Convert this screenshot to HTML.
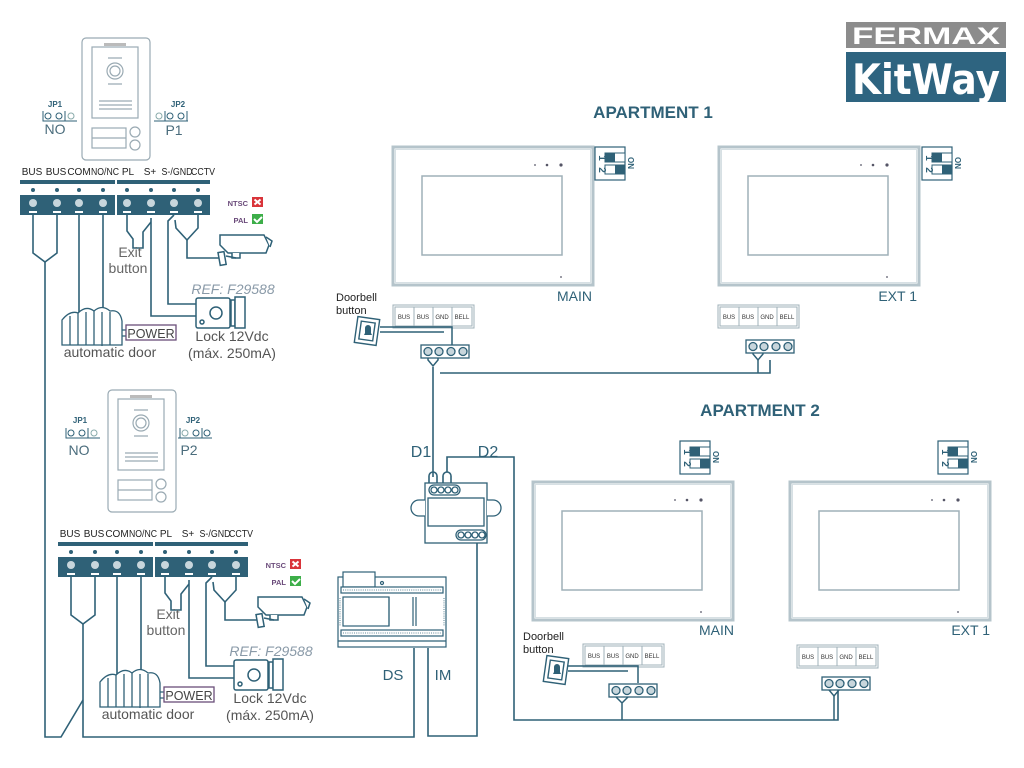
<!DOCTYPE html>
<html><head><meta charset="utf-8"><style>
html,body{margin:0;padding:0;background:#fff;}
svg{display:block;font-family:"Liberation Sans",sans-serif;}
</style></head><body>
<svg width="1024" height="768" viewBox="0 0 1024 768" xmlns="http://www.w3.org/2000/svg">
<defs>
<g id="blk">
 <rect x="0" y="0" width="190" height="35" fill="#2f6177"/>
 <rect x="0" y="4" width="190" height="11" fill="#fff"/>
 <rect x="95" y="0" width="2" height="35" fill="#fff"/>
 <g fill="#2f6177">
  <circle cx="13" cy="10" r="2"/><circle cx="37" cy="10" r="2"/><circle cx="59" cy="10" r="2"/><circle cx="83" cy="10" r="2"/>
  <circle cx="107" cy="10" r="2"/><circle cx="131" cy="10" r="2"/><circle cx="154" cy="10" r="2"/><circle cx="178" cy="10" r="2"/>
 </g>
 <g fill="#c8d6dc">
  <circle cx="13" cy="23" r="4"/><circle cx="37" cy="23" r="4"/><circle cx="59" cy="23" r="4"/><circle cx="83" cy="23" r="4"/>
  <circle cx="107" cy="23" r="4"/><circle cx="131" cy="23" r="4"/><circle cx="154" cy="23" r="4"/><circle cx="178" cy="23" r="4"/>
 </g>
 <g fill="#fff">
  <rect x="9" y="31" width="8" height="2"/><rect x="33" y="31" width="8" height="2"/><rect x="55" y="31" width="8" height="2"/><rect x="79" y="31" width="8" height="2"/>
  <rect x="103" y="31" width="8" height="2"/><rect x="127" y="31" width="8" height="2"/><rect x="150" y="31" width="8" height="2"/><rect x="174" y="31" width="8" height="2"/>
 </g>
</g>
<g id="panel" fill="none" stroke="#9aaab3" stroke-width="1.2">
 <rect x="82" y="38" width="68" height="122" rx="4"/>
 <rect x="92" y="47" width="46" height="71"/>
 <rect x="104" y="43" width="22" height="3" fill="#bbb" stroke="none"/>
 <circle cx="115" cy="71" r="8"/><circle cx="115" cy="71" r="5"/>
 <path d="M108 58h14M108 84h14"/>
 <path d="M99 101h33M99 105h33M99 109h33"/>
 <rect x="92" y="128" width="34" height="20"/><path d="M92 138h34"/>
 <circle cx="135" cy="132" r="5"/><circle cx="135" cy="145" r="5"/>
</g>
<g id="mon">
 <rect x="0" y="0" width="200" height="138" fill="#fff" stroke="#b5c4cb" stroke-width="3"/>
 <rect x="2.5" y="2.5" width="195" height="133" fill="none" stroke="#d7e0e4" stroke-width="1"/>
 <rect x="29" y="29" width="140" height="79" fill="#fff" stroke="#9fb0b8" stroke-width="1.5"/>
 <circle cx="142" cy="18" r="0.9" fill="#556"/><circle cx="154" cy="18" r="1.3" fill="#556"/><circle cx="168" cy="18" r="1.6" fill="#556"/>
 <circle cx="168" cy="130" r="0.9" fill="#556"/>
</g>
<g id="dip">
 <rect x="0" y="0" width="30" height="33" fill="#fff" stroke="#2f6177" stroke-width="1.2"/>
 <rect x="10" y="6" width="20" height="9" fill="#fff" stroke="#2f6177"/><rect x="10" y="6" width="10" height="9" fill="#2f6177"/>
 <rect x="10" y="18" width="20" height="9" fill="#fff" stroke="#2f6177"/><rect x="20" y="18" width="10" height="9" fill="#2f6177"/>
</g>
<g id="strip" fill="none" stroke="#9fb0b8">
 <rect x="0" y="0" width="81" height="23"/>
 <rect x="2" y="2" width="77" height="19"/>
 <path d="M21 2v19M40 2v19M59 2v19"/>
</g>
<g id="con" stroke="#2f6177" stroke-width="1.3">
 <rect x="0" y="0" width="48" height="13" fill="#fff"/>
 <circle cx="7" cy="6.5" r="4" fill="#c8d6dc"/><circle cx="18" cy="6.5" r="4" fill="#c8d6dc"/>
 <circle cx="30" cy="6.5" r="4" fill="#c8d6dc"/><circle cx="42" cy="6.5" r="4" fill="#c8d6dc"/>
</g>
<g id="bell" stroke="#2f6177" stroke-width="1.4" fill="#fff">
 <rect x="0" y="0" width="22" height="26" transform="rotate(8 11 13)"/>
 <rect x="4" y="4" width="14" height="18" transform="rotate(8 11 13)"/>
 <path d="M8 17h8l-1-2v-5a3 3 0 0 0-6 0v5z" fill="#2f6177" stroke="none"/>
</g>
<g id="wire">
 <g transform="translate(20,180)"><use href="#blk"/></g>
 <g fill="none" stroke="#2f6177" stroke-width="1.6">
  <path d="M33 215v38l12 9l12 -9v-38"/>
  <path d="M79 215v104M103 215v104"/>
  <path d="M127 215v16l6 8v9h10v-16l8 -10"/>
  <path d="M151 218v98h45"/>
  <path d="M174 215l-6 6v83h28"/>
  <path d="M175 220l1 8l11 12l11 -12v-13"/>
  <path d="M187 240v18h36"/>
 </g>
 <g fill="#fff" stroke="#2f6177" stroke-width="1.3">
  <path d="M62 345v-25q8-10 16-7q8-8 16-2q8-7 16 0q10 -2 12 10v24z"/>
  <path d="M70 316v29M78 313v32M86 312v33M94 311v34M102 312v34M110 312v33" fill="none"/>
  <path d="M122 330h4M122 336h4" fill="none"/>
  <rect x="126" y="325" width="50" height="15" stroke="#6a4f7a"/>
 </g>
 <rect x="252" y="197" width="11" height="10" fill="#d9343a"/>
 <path d="M254.5 199.5l6 5M260.5 199.5l-6 5" stroke="#fff" stroke-width="2"/>
 <rect x="252" y="214" width="11" height="10" fill="#3dae49"/>
 <path d="M254 219l3 3l5 -5" stroke="#fff" stroke-width="2" fill="none"/>
 <g fill="#fff" stroke="#2f6177" stroke-width="1.5">
  <path d="M220 235h44l5 10l-3 8h-38l-8 -8z"/>
  <path d="M266 237l6 4l-2 6"/>
  <path d="M232 253v5h8v-5"/>
  <path d="M226 256l10 2" />
  <rect x="219" y="252" width="6" height="13" transform="rotate(-10 222 258)"/>
 </g>
 <g fill="#fff" stroke="#2f6177" stroke-width="1.5">
  <rect x="196" y="298" width="34" height="30" rx="2"/>
  <circle cx="216" cy="313" r="6"/><circle cx="202" cy="322" r="2"/>
  <rect x="231" y="300" width="4" height="26"/>
  <rect x="235" y="297" width="10" height="31"/>
 </g>
</g>
</defs>

<!-- Logo -->
<rect x="846" y="22" width="160" height="26" fill="#8c8c8c"/>
<text x="926" y="44" fill="#fff" font-size="24" font-weight="bold" text-anchor="middle" textLength="148" lengthAdjust="spacingAndGlyphs">FERMAX</text>
<rect x="846" y="52" width="160" height="50" fill="#2e6480"/>
<text x="926" y="94" fill="#fff" font-size="42" font-weight="bold" text-anchor="middle" font-family="DejaVu Sans, sans-serif" textLength="148" lengthAdjust="spacingAndGlyphs">KitWay</text>

<!-- Entry panel 1 -->
<use href="#panel"/>
<text x="55" y="107" font-size="8" font-weight="bold" fill="#2f6177" text-anchor="middle">JP1</text>
<g fill="none" stroke="#2f6177" stroke-width="1"><path d="M43 111v10h22v-10"/><circle cx="48" cy="116" r="3"/><circle cx="59" cy="116" r="3"/><circle cx="71" cy="116" r="3" stroke="#8aa"/><path d="M43 121h34"/></g>
<text x="55" y="134" font-size="14" fill="#4a6c7c" text-anchor="middle">NO</text>
<text x="178" y="107" font-size="8" font-weight="bold" fill="#2f6177" text-anchor="middle">JP2</text>
<g fill="none" stroke="#2f6177" stroke-width="1"><path d="M165 111v10h22v-10"/><circle cx="159" cy="116" r="3" stroke="#8aa"/><circle cx="170" cy="116" r="3"/><circle cx="181" cy="116" r="3"/><path d="M154 121h34"/></g>
<text x="174" y="135" font-size="14" fill="#4a6c7c" text-anchor="middle">P1</text>

<!-- Entry panel 2 -->
<g transform="translate(26,352)"><use href="#panel"/></g>
<text x="80" y="423" font-size="8" font-weight="bold" fill="#2f6177" text-anchor="middle">JP1</text>
<g fill="none" stroke="#2f6177" stroke-width="1"><path d="M66 428v10h22v-10"/><circle cx="71" cy="433" r="3"/><circle cx="82" cy="433" r="3"/><circle cx="94" cy="433" r="3" stroke="#8aa"/><path d="M66 438h34"/></g>
<text x="79" y="455" font-size="14" fill="#4a6c7c" text-anchor="middle">NO</text>
<text x="193" y="423" font-size="8" font-weight="bold" fill="#2f6177" text-anchor="middle">JP2</text>
<g fill="none" stroke="#2f6177" stroke-width="1"><path d="M180 428v10h22v-10"/><circle cx="185" cy="433" r="3" stroke="#8aa"/><circle cx="196" cy="433" r="3"/><circle cx="207" cy="433" r="3"/><path d="M178 438h34"/></g>
<text x="189" y="455" font-size="14" fill="#4a6c7c" text-anchor="middle">P2</text>

<!-- wiring 1 -->
<use href="#wire"/>
<g font-size="10" fill="#222" text-anchor="middle">
 <text x="32" y="175">BUS</text><text x="56" y="175">BUS</text><text x="79" y="175">COM</text><text x="105" y="175" textLength="28" lengthAdjust="spacingAndGlyphs">NO/NC</text>
 <text x="128" y="175">PL</text><text x="150" y="175">S+</text><text x="177" y="175" textLength="31" lengthAdjust="spacingAndGlyphs">S-/GND</text><text x="203" y="175" textLength="24" lengthAdjust="spacingAndGlyphs">CCTV</text>
</g>
<text x="151" y="338" font-size="12.5" fill="#444" text-anchor="middle">POWER</text>
<text x="110" y="357" font-size="14" fill="#555" text-anchor="middle">automatic door</text>
<text x="130" y="257" font-size="14" fill="#666" text-anchor="middle">Exit</text>
<text x="128" y="273" font-size="14" fill="#666" text-anchor="middle">button</text>
<text x="248" y="206" font-size="7.5" font-weight="bold" fill="#6a4a7a" text-anchor="end">NTSC</text>
<text x="248" y="223" font-size="7.5" font-weight="bold" fill="#6a4a7a" text-anchor="end">PAL</text>
<text x="233" y="294" font-size="14" font-style="italic" fill="#8a9aa8" text-anchor="middle">REF: F29588</text>
<text x="232" y="341" font-size="14" fill="#555" text-anchor="middle">Lock 12Vdc</text>
<text x="232" y="358" font-size="14" fill="#555" text-anchor="middle">(máx. 250mA)</text>

<!-- wiring 2 -->
<g transform="translate(38,362)">
 <use href="#wire"/>
 <g font-size="10" fill="#222" text-anchor="middle">
  <text x="32" y="175">BUS</text><text x="56" y="175">BUS</text><text x="79" y="175">COM</text><text x="105" y="175" textLength="28" lengthAdjust="spacingAndGlyphs">NO/NC</text>
  <text x="128" y="175">PL</text><text x="150" y="175">S+</text><text x="177" y="175" textLength="31" lengthAdjust="spacingAndGlyphs">S-/GND</text><text x="203" y="175" textLength="24" lengthAdjust="spacingAndGlyphs">CCTV</text>
 </g>
 <text x="151" y="338" font-size="12.5" fill="#444" text-anchor="middle">POWER</text>
 <text x="110" y="357" font-size="14" fill="#555" text-anchor="middle">automatic door</text>
 <text x="130" y="257" font-size="14" fill="#666" text-anchor="middle">Exit</text>
 <text x="128" y="273" font-size="14" fill="#666" text-anchor="middle">button</text>
 <text x="248" y="206" font-size="7.5" font-weight="bold" fill="#6a4a7a" text-anchor="end">NTSC</text>
 <text x="248" y="223" font-size="7.5" font-weight="bold" fill="#6a4a7a" text-anchor="end">PAL</text>
 <text x="233" y="294" font-size="14" font-style="italic" fill="#8a9aa8" text-anchor="middle">REF: F29588</text>
 <text x="232" y="341" font-size="14" fill="#555" text-anchor="middle">Lock 12Vdc</text>
 <text x="232" y="358" font-size="14" fill="#555" text-anchor="middle">(máx. 250mA)</text>
</g>

<!-- main bus wiring -->
<g fill="none" stroke="#2f6177" stroke-width="1.6">
 <path d="M45 262v475h16l22 -37"/>
 <path d="M83 624v113h331v-89"/>
 <path d="M428 648v88h49v-196"/>
 <path d="M433 367v110"/>
 <path d="M429 486v-10a4 4 0 0 1 8 0v10"/>
 <path d="M443 486v-10a4 4 0 0 1 8 0v10"/>
 <path d="M447 472v-15h67v263h324v-30"/>
 <path d="M440 373h330v-13"/>
</g>

<!-- Power supply -->
<g fill="#fff" stroke="#2f6177" stroke-width="1.2">
 <rect x="338" y="577" width="108" height="70"/>
 <rect x="343" y="572" width="32" height="15"/>
 <circle cx="382" cy="583" r="1.5"/>
 <rect x="341" y="587" width="102" height="6"/>
 <rect x="341" y="630" width="102" height="6"/>
 <rect x="343" y="597" width="46" height="29"/>
 <path d="M389 597v29M413 597v29M416 597v29"/>
 <path d="M338 641h108"/>
</g>
<g stroke="#2f6177" stroke-width="0.8" stroke-dasharray="1 1.2"><path d="M343 590h98M343 633h98M340 598v28M444 598v28"/></g>
<text x="393" y="680" font-size="15" fill="#2f6177" text-anchor="middle">DS</text>
<text x="443" y="680" font-size="15" fill="#2f6177" text-anchor="middle">IM</text>

<!-- Distributor -->
<g fill="#fff" stroke="#2f6177" stroke-width="1.3">
 <rect x="425" y="483" width="62" height="60"/>
 <rect x="428" y="498" width="56" height="28"/>
 <path d="M425 500h-6a8 8 0 0 0 0 16h6M487 500h6a8 8 0 0 1 0 16h-6"/>
 <rect x="429" y="485" width="31" height="10" rx="5"/>
 <circle cx="434" cy="490" r="3"/><circle cx="441" cy="490" r="3"/><circle cx="448" cy="490" r="3"/><circle cx="455" cy="490" r="3"/>
 <rect x="456" y="530" width="30" height="10" rx="5"/>
 <circle cx="461" cy="535" r="3"/><circle cx="468" cy="535" r="3"/><circle cx="475" cy="535" r="3"/><circle cx="482" cy="535" r="3"/>
</g>
<text x="421" y="457" font-size="16" fill="#2f6177" text-anchor="middle">D1</text>
<text x="488" y="457" font-size="16" fill="#2f6177" text-anchor="middle">D2</text>

<!-- Apartment 1 -->
<text x="653" y="118" font-size="17" font-weight="bold" fill="#2f6177" text-anchor="middle">APARTMENT 1</text>
<g transform="translate(393,147)"><use href="#mon"/></g>
<g transform="translate(719,147)"><use href="#mon"/></g>
<text x="592" y="301" font-size="14" fill="#2f6177" text-anchor="end">MAIN</text>
<text x="917" y="301" font-size="14" fill="#2f6177" text-anchor="end">EXT 1</text>
<g transform="translate(595,147)"><use href="#dip"/></g>
<g transform="translate(922,147)"><use href="#dip"/></g>
<g transform="translate(680,441)"><use href="#dip"/></g>
<g transform="translate(938,441)"><use href="#dip"/></g>
<g font-size="10" fill="#2f6177" font-weight="bold">
 <text transform="translate(599,158) rotate(90)" text-anchor="middle">1</text>
 <text transform="translate(599,170) rotate(90)" text-anchor="middle">2</text>
 <text transform="translate(628,163) rotate(90)" font-size="8" text-anchor="middle">ON</text>
 <text transform="translate(926,158) rotate(90)" text-anchor="middle">1</text>
 <text transform="translate(926,170) rotate(90)" text-anchor="middle">2</text>
 <text transform="translate(955,163) rotate(90)" font-size="8" text-anchor="middle">ON</text>
 <text transform="translate(684,452) rotate(90)" text-anchor="middle">1</text>
 <text transform="translate(684,464) rotate(90)" text-anchor="middle">2</text>
 <text transform="translate(713,457) rotate(90)" font-size="8" text-anchor="middle">ON</text>
 <text transform="translate(942,452) rotate(90)" text-anchor="middle">1</text>
 <text transform="translate(942,464) rotate(90)" text-anchor="middle">2</text>
 <text transform="translate(971,457) rotate(90)" font-size="8" text-anchor="middle">ON</text>
</g>

<!-- strips -->
<g transform="translate(393,305)"><use href="#strip"/></g>
<g transform="translate(718,305)"><use href="#strip"/></g>
<g transform="translate(583,644)"><use href="#strip"/></g>
<g transform="translate(797,645)"><use href="#strip"/></g>
<g font-size="6" fill="#333" text-anchor="middle">
 <text x="404" y="319">BUS</text><text x="423" y="319">BUS</text><text x="442" y="319">GND</text><text x="462" y="319">BELL</text>
 <text x="729" y="319">BUS</text><text x="748" y="319">BUS</text><text x="767" y="319">GND</text><text x="787" y="319">BELL</text>
 <text x="594" y="658">BUS</text><text x="613" y="658">BUS</text><text x="632" y="658">GND</text><text x="652" y="658">BELL</text>
 <text x="808" y="659">BUS</text><text x="827" y="659">BUS</text><text x="846" y="659">GND</text><text x="866" y="659">BELL</text>
</g>

<!-- connectors + wires -->
<g fill="none" stroke="#2f6177" stroke-width="1.5">
 <path d="M428 352v8l5 6l5 -6v-8"/>
 <path d="M753 348v6l5 6l5 -6v-6"/>
 <path d="M380 327h72v20M380 332h64"/>
 <path d="M616 690v7l6 6l6 -6v-7M622 703v17"/>
 <path d="M829 684v6l5 6l5 -6v-6"/>
 <path d="M568 666h70v17M568 671h60"/>
</g>
<g transform="translate(421,345)"><use href="#con"/></g>
<g transform="translate(746,340)"><use href="#con"/></g>
<g transform="translate(609,684)"><use href="#con"/></g>
<g transform="translate(822,677)"><use href="#con"/></g>
<path d="M758 360v13M834 696v24" stroke="#2f6177" stroke-width="1.5" fill="none"/>

<!-- doorbells -->
<g transform="translate(356,318)"><use href="#bell"/></g>
<g transform="translate(545,657)"><use href="#bell"/></g>
<g font-size="11" fill="#222">
 <text x="336" y="301">Doorbell</text><text x="336" y="314">button</text>
 <text x="523" y="640">Doorbell</text><text x="523" y="653">button</text>
</g>

<!-- Apartment 2 -->
<text x="760" y="416" font-size="17" font-weight="bold" fill="#2f6177" text-anchor="middle">APARTMENT 2</text>
<g transform="translate(533,482)"><use href="#mon"/></g>
<g transform="translate(790,482)"><use href="#mon"/></g>
<text x="734" y="635" font-size="14" fill="#2f6177" text-anchor="end">MAIN</text>
<text x="990" y="635" font-size="14" fill="#2f6177" text-anchor="end">EXT 1</text>
</svg>
</body></html>
